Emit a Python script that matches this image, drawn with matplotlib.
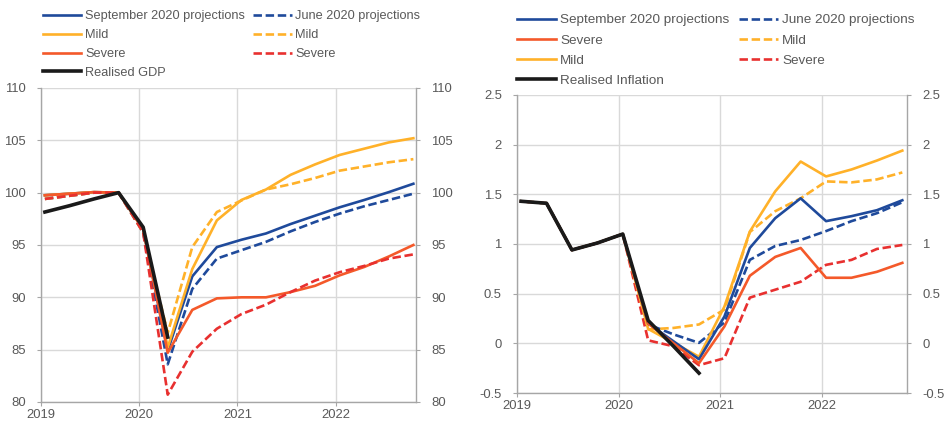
import numpy as np
import matplotlib.pyplot as plt
from matplotlib.ticker import FuncFormatter
from matplotlib.lines import Line2D

plt.rcParams['font.family'] = ['Liberation Sans', 'DejaVu Sans']

# trimestres 2019 Q1 .. 2022 Q4
trimestres = np.arange(16)
anios = [2019, 2020, 2021, 2022]

# --- PIB (índice) ---
pib_real = [98.15, 98.75, 99.4, 100.0, 96.7, 86.2]
pib_sep = [99.75, 99.9, 100.05, 100.0, 96.5, 84.9, 92.0, 94.8, 95.5, 96.1, 97.0, 97.8, 98.6, 99.3, 100.05, 100.85]
pib_sep_leve = [99.75, 99.9, 100.05, 100.0, 96.5, 85.2, 92.7, 97.35, 99.3, 100.3, 101.7, 102.7, 103.6, 104.2, 104.8, 105.2]
pib_sep_severo = [99.75, 99.9, 100.05, 100.0, 96.5, 84.7, 88.8, 89.9, 90.0, 90.0, 90.5, 91.1, 92.1, 92.9, 93.9, 95.0]
pib_jun = [99.4, 99.7, 100.0, 100.0, 96.2, 83.6, 90.8, 93.7, 94.5, 95.3, 96.3, 97.2, 98.0, 98.7, 99.3, 99.9]
pib_jun_leve = [99.4, 99.7, 100.0, 100.0, 96.2, 86.6, 94.8, 98.15, 99.25, 100.3, 100.8, 101.4, 102.1, 102.5, 102.9, 103.2]
pib_jun_severo = [99.4, 99.7, 100.0, 100.0, 96.2, 80.7, 84.8, 87.0, 88.4, 89.3, 90.5, 91.6, 92.4, 93.0, 93.7, 94.1]

# --- Inflación (%) ---
inf_real = [1.43, 1.41, 0.94, 1.01, 1.10, 0.23, -0.03, -0.30]
inf_sep = [1.43, 1.41, 0.94, 1.01, 1.10, 0.20, 0.02, -0.16, 0.27, 0.96, 1.26, 1.46, 1.23, 1.28, 1.34, 1.44]
inf_sep_severo = [1.43, 1.41, 0.94, 1.01, 1.10, 0.20, 0.00, -0.20, 0.17, 0.68, 0.87, 0.96, 0.66, 0.66, 0.72, 0.81]
inf_sep_leve = [1.43, 1.41, 0.94, 1.01, 1.10, 0.145, 0.005, -0.135, 0.37, 1.125, 1.53, 1.83, 1.68, 1.75, 1.84, 1.94]
inf_jun = [1.43, 1.41, 0.94, 1.01, 1.10, 0.19, 0.09, 0.005, 0.21, 0.84, 0.98, 1.04, 1.13, 1.23, 1.31, 1.42]
inf_jun_leve = [1.43, 1.41, 0.94, 1.01, 1.10, 0.14, 0.155, 0.19, 0.34, 1.12, 1.33, 1.46, 1.63, 1.62, 1.65, 1.72]
inf_jun_severo = [1.43, 1.41, 0.94, 1.01, 1.10, 0.03, -0.03, -0.22, -0.15, 0.46, 0.54, 0.62, 0.79, 0.84, 0.95, 0.99]

azul = '#1f4a9b'
amarillo = '#ffb129'
naranja = '#f4592a'
rojo = '#e8302f'
negro = '#1a1a1a'
gris_texto = '#595959'
gris_rejilla = '#d9d9d9'
gris_eje = '#a6a6a6'

lw = 1.9
guion = (3.2, 1.4)

x = 2019 + trimestres / 4 + 0.04

fig = plt.figure(figsize=(9.44, 4.24), dpi=100)
ax1 = fig.add_axes([0.0434, 0.0519, 0.3973, 0.7406])
ax2 = fig.add_axes([0.5477, 0.0731, 0.4131, 0.7029])


def estilo(ax, ylim, yticks, xmax):
    ax.set_xlim(2019, xmax)
    ax.set_ylim(*ylim)
    ax.set_xticks(anios)
    ax.set_xticklabels([str(a) for a in anios])
    ax.set_yticks(yticks)
    ax.yaxis.set_major_formatter(FuncFormatter(lambda v, p: f'{v:g}'))
    ax.grid(True, color=gris_rejilla, lw=1.0)
    ax.set_axisbelow(True)
    for s in ['left', 'right', 'bottom']:
        ax.spines[s].set_color(gris_eje)
        ax.spines[s].set_linewidth(1.0)
    ax.spines['top'].set_visible(False)
    ax.tick_params(axis='y', which='both', labelleft=True, labelright=True, left=True, right=True,
                   direction='out', length=3, color=gris_eje, labelcolor=gris_texto, labelsize=9.4, pad=8)
    ax.tick_params(axis='x', direction='out', length=3, color=gris_eje, labelcolor=gris_texto,
                   labelsize=9.4, pad=2)


# Gráfico PIB
ax1.plot(x, pib_jun, color=azul, lw=lw, ls=(0, guion))
ax1.plot(x, pib_jun_leve, color=amarillo, lw=lw, ls=(0, guion))
ax1.plot(x, pib_sep, color=azul, lw=lw)
ax1.plot(x, pib_sep_leve, color=amarillo, lw=lw)
ax1.plot(x, pib_sep_severo, color=naranja, lw=lw)
ax1.plot(x, pib_jun_severo, color=rojo, lw=lw, ls=(0, guion))
ax1.plot(x[:len(pib_real)], pib_real, color=negro, lw=2.6)
estilo(ax1, (80, 110), np.arange(80, 111, 5), 2022.817)

# Gráfico inflación
ax2.plot(x, inf_jun, color=azul, lw=lw, ls=(0, guion))
ax2.plot(x, inf_jun_leve, color=amarillo, lw=lw, ls=(0, guion))
ax2.plot(x, inf_jun_severo, color=rojo, lw=lw, ls=(0, guion))
ax2.plot(x, inf_sep_leve, color=amarillo, lw=lw)
ax2.plot(x, inf_sep, color=azul, lw=lw)
ax2.plot(x, inf_sep_severo, color=naranja, lw=lw)
ax2.plot(x[:len(inf_real)], inf_real, color=negro, lw=2.6)
estilo(ax2, (-0.5, 2.5), [-0.5, 0, 0.5, 1, 1.5, 2, 2.5], 2022.836)


def h(c, ls='-', w=lw):
    return Line2D([], [], color=c, lw=w, ls=ls if ls == '-' else (0, guion))


leg_kw = dict(ncol=2, frameon=False, handletextpad=0.3, borderpad=0, borderaxespad=0,
              loc='upper left', labelcolor=gris_texto)

fig.legend([h(azul), h(amarillo), h(naranja), h(negro, w=2.6), h(azul, '--'), h(amarillo, '--'), h(rojo, '--')],
           ['September 2020 projections', 'Mild', 'Severe', 'Realised GDP',
            'June 2020 projections', 'Mild', 'Severe'],
           bbox_to_anchor=(0.0455, 0.976), fontsize=9.2, handlelength=3.0,
           labelspacing=0.54, columnspacing=0.65, **leg_kw)

fig.legend([h(azul), h(naranja), h(amarillo), h(negro, w=2.6), h(azul, '--'), h(amarillo, '--'), h(rojo, '--')],
           ['September 2020 projections', 'Severe', 'Mild', 'Realised Inflation',
            'June 2020 projections', 'Mild', 'Severe'],
           bbox_to_anchor=(0.5477, 0.967), fontsize=9.7, handlelength=2.9,
           labelspacing=0.58, columnspacing=0.72, **leg_kw)

fig.savefig('out.png', dpi=100)
